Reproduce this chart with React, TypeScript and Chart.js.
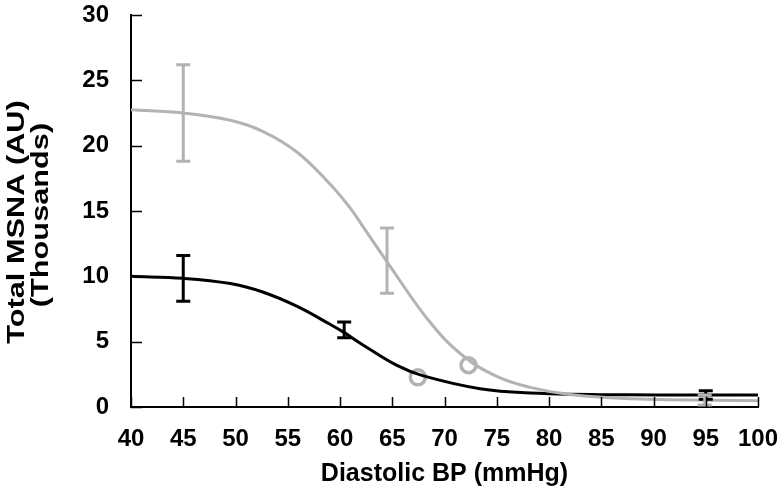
import React, { useEffect, useRef } from 'react';
import { Chart, registerables } from 'chart.js';

Chart.register(...registerables);

// ---- data ----
const xTickValues = [40, 45, 50, 55, 60, 65, 70, 75, 80, 85, 90, 95, 100];
const yTickValues = [0, 5, 10, 15, 20, 25, 30];

const grayCurveX = [40, 45, 49.5, 52.6, 55.9, 59, 61, 62.2, 64.6, 68.6, 71.8, 75, 78.2, 82, 87.8, 100];
const grayCurveY = [22.75, 22.5, 21.95, 21.1, 19.5, 17.1, 15.2, 13.8, 11.0, 6.5, 3.9, 2.35, 1.5, 0.95, 0.63, 0.48];

const blackCurveX = [40, 45, 49.5, 52.6, 55.9, 59, 60.3, 62.2, 65.4, 67.9, 73.4, 78.2, 87.8, 100];
const blackCurveY = [10.0, 9.85, 9.45, 8.8, 7.7, 6.35, 5.75, 4.75, 3.2, 2.4, 1.4, 1.08, 0.93, 0.92];

const grayErrX = [45, 64.5, 94.9];
const grayErrLow = [18.8, 8.7, 0.15];
const grayErrHigh = [26.2, 13.7, 0.92];

const blackErrX = [45, 60.4, 95];
const blackErrLow = [8.1, 5.3, 0.6];
const blackErrHigh = [11.6, 6.5, 1.25];

const openX = [67.45, 72.3];
const openY = [2.27, 3.2];

const yTitleLines = ['Total MSNA (AU)', '(Thousands)'];
const xTitle = 'Diastolic BP (mmHg)';

const GRAY = '#b3b3b3';
const BLACK = '#000000';
const FONT = '"Liberation Sans", Arial, sans-serif';

const toPts = (xs: number[], ys: number[]) => xs.map((x, i) => ({ x, y: ys[i] }));

const errorBarPlugin = {
  id: 'errorBars',
  afterDatasetsDraw(chart: any) {
    const { ctx, scales } = chart;
    const xs = scales.x;
    const ys = scales.y;
    const draw = (xv: number[], lo: number[], hi: number[], color: string) => {
      ctx.save();
      ctx.strokeStyle = color;
      ctx.lineWidth = 3;
      ctx.lineCap = 'butt';
      xv.forEach((x, i) => {
        const px = xs.getPixelForValue(x);
        const pl = ys.getPixelForValue(lo[i]);
        const ph = ys.getPixelForValue(hi[i]);
        const w = 7;
        ctx.beginPath();
        ctx.moveTo(px, pl);
        ctx.lineTo(px, ph);
        ctx.moveTo(px - w, pl);
        ctx.lineTo(px + w, pl);
        ctx.moveTo(px - w, ph);
        ctx.lineTo(px + w, ph);
        ctx.stroke();
      });
      ctx.restore();
    };
    draw(blackErrX, blackErrLow, blackErrHigh, BLACK);
    draw(grayErrX, grayErrLow, grayErrHigh, GRAY);
  },
};

const innerTicksPlugin = {
  id: 'innerTicks',
  afterDraw(chart: any) {
    const { ctx, scales, chartArea } = chart;
    ctx.save();
    ctx.strokeStyle = '#000';
    ctx.lineWidth = 1.5;
    ctx.beginPath();
    xTickValues.forEach((v) => {
      const px = Math.round(scales.x.getPixelForValue(v)) + 0.5;
      ctx.moveTo(px, chartArea.bottom);
      ctx.lineTo(px, chartArea.bottom - 10);
    });
    yTickValues.forEach((v) => {
      const py = Math.round(scales.y.getPixelForValue(v)) + 0.5;
      ctx.moveTo(chartArea.left, py);
      ctx.lineTo(chartArea.left + 11, py);
    });
    ctx.stroke();
    ctx.restore();
  },
};

// Y-axis title: two rotated lines, stretched along the text direction as in the reference
const yTitlePlugin = {
  id: 'yTitle',
  afterDraw(chart: any) {
    const { ctx, chartArea } = chart;
    const cy = (chartArea.top + chartArea.bottom) / 2;
    const pos = [
      { x: 17, y: cy + 11 },
      { x: 41, y: cy + 4 },
    ];
    ctx.save();
    ctx.fillStyle = '#000';
    ctx.font = `bold 24px ${FONT}`;
    ctx.textAlign = 'center';
    ctx.textBaseline = 'middle';
    yTitleLines.forEach((t, i) => {
      ctx.save();
      ctx.translate(pos[i].x, pos[i].y);
      ctx.rotate(-Math.PI / 2);
      ctx.scale(1.28, 1);
      ctx.fillText(t, 0, 0);
      ctx.restore();
    });
    ctx.restore();
  },
};

export default function App() {
  const ref = useRef<HTMLCanvasElement | null>(null);

  useEffect(() => {
    document.body.style.margin = '0';
    const canvas = ref.current;
    if (!canvas) return;
    const chart = new Chart(canvas, {
      type: 'scatter',
      data: {
        datasets: [
          {
            type: 'line',
            data: toPts(grayCurveX, grayCurveY),
            borderColor: GRAY,
            borderWidth: 3,
            pointRadius: 0,
            tension: 0.4,
            fill: false,
          } as any,
          {
            type: 'line',
            data: toPts(blackCurveX, blackCurveY),
            borderColor: BLACK,
            borderWidth: 3,
            pointRadius: 0,
            tension: 0.4,
            fill: false,
          } as any,
          {
            type: 'scatter',
            data: toPts(openX, openY),
            pointStyle: 'circle',
            pointRadius: 7.5,
            pointBorderWidth: 3.5,
            pointBorderColor: GRAY,
            pointBackgroundColor: 'rgba(0,0,0,0)',
          } as any,
        ],
      },
      options: {
        animation: false,
        responsive: false,
        maintainAspectRatio: false,
        layout: { padding: { top: 15, right: 26, left: 0, bottom: 0 } },
        plugins: { legend: { display: false }, tooltip: { enabled: false } },
        scales: {
          x: {
            type: 'linear',
            min: 40,
            max: 100,
            afterBuildTicks: (s: any) => {
              s.ticks = xTickValues.map((v) => ({ value: v }));
            },
            afterFit: (s: any) => {
              s.height = 87;
              s.paddingLeft = 0;
              s.paddingRight = 0;
            },
            grid: { display: false, drawTicks: false },
            border: { display: true, color: '#000', width: 2 },
            ticks: {
              color: '#000',
              padding: 18,
              maxRotation: 0,
              autoSkip: false,
              font: { family: FONT, size: 24, weight: 'bold' },
            },
            title: {
              display: true,
              text: xTitle,
              color: '#000',
              font: { family: FONT, size: 25, weight: 'bold' },
              padding: { top: 2, bottom: 5 },
            },
          },
          y: {
            type: 'linear',
            min: 0,
            max: 30,
            afterBuildTicks: (s: any) => {
              s.ticks = yTickValues.map((v) => ({ value: v }));
            },
            afterFit: (s: any) => {
              s.width = 131;
              s.paddingTop = 0;
              s.paddingBottom = 0;
            },
            grid: { display: false, drawTicks: false },
            border: { display: true, color: '#000', width: 2 },
            ticks: {
              color: '#000',
              padding: 22,
              autoSkip: false,
              font: { family: FONT, size: 24, weight: 'bold' },
            },
            title: { display: false },
          },
        },
      },
      plugins: [errorBarPlugin, innerTicksPlugin, yTitlePlugin],
    });
    return () => chart.destroy();
  }, []);

  return (
    <div style={{ width: 784, height: 494 }}>
      <canvas ref={ref} width={784} height={494} style={{ display: 'block', width: 784, height: 494 }} />
    </div>
  );
}
